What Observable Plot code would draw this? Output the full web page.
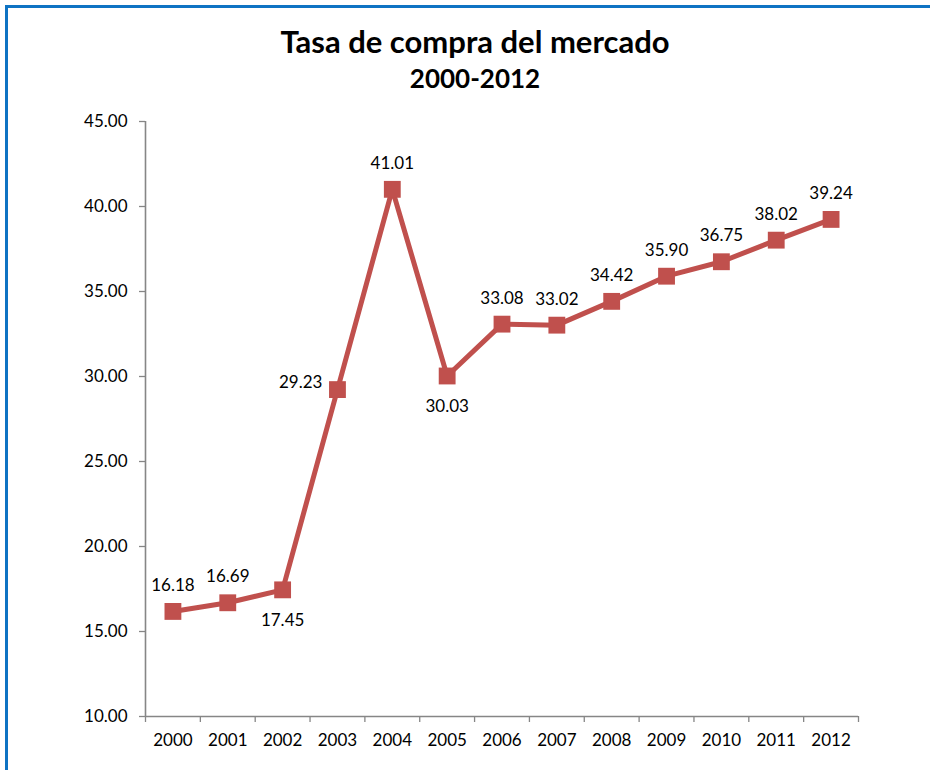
<!DOCTYPE html>
<html>
<head>
<meta charset="utf-8">
<script src="https://cdn.jsdelivr.net/npm/d3@7"></script>
<script src="https://cdn.jsdelivr.net/npm/@observablehq/plot@0.6"></script>
<style>
  html, body { margin: 0; padding: 0; background: #fff; }
  #wrap { position: relative; width: 930px; height: 770px; overflow: hidden; font-family: Lato, "Open Sans", sans-serif; }
  #frame { position: absolute; left: 5px; top: 5px; width: 1000px; height: 1000px; border-left: 3px solid #0F73C3; border-top: 3px solid #0F73C3; box-sizing: border-box; }
  .title { position: absolute; left: 0; width: 950px; text-align: center; font-weight: bold; color: #000; white-space: nowrap; }
  #t1 { top: 22px; font-size: 31px; line-height: 38px; }
  #t2 { top: 62px; font-size: 26px; line-height: 32px; }
  #chart { position: absolute; left: 0; top: 0; }
</style>
</head>
<body>
<div id="wrap">
  <div id="chart"></div>
  <div id="frame"></div>
  <div class="title" id="t1">Tasa de compra del mercado</div>
  <div class="title" id="t2">2000-2012</div>
</div>
<script>
// Data
const years = [2000, 2001, 2002, 2003, 2004, 2005, 2006, 2007, 2008, 2009, 2010, 2011, 2012];
const rates = [16.18, 16.69, 17.45, 29.23, 41.01, 30.03, 33.08, 33.02, 34.42, 35.90, 36.75, 38.02, 39.24];
const yTicks = [10, 15, 20, 25, 30, 35, 40, 45];
// label placement (style)
const labelPlacement = ["top","top","bottom","left","top","bottom","top","top","top","top","top","top","top"];

const data = years.map((y, i) => ({year: y, value: rates[i], pos: labelPlacement[i]}));
const boundaries = [...years.map(y => y - 0.5), years[years.length - 1] + 0.5];

const red = "#C0504D";
const gray = "#868686";

const plot = Plot.plot({
  width: 930,
  height: 770,
  marginLeft: 145,
  marginRight: 72,
  marginTop: 121,
  marginBottom: 54,
  style: {background: "transparent", fontFamily: "Lato, 'Open Sans', sans-serif", fontSize: "17px", color: "#000"},
  x: {type: "linear", domain: [years[0] - 0.5, years[years.length - 1] + 0.5]},
  y: {domain: [yTicks[0], yTicks[yTicks.length - 1]]},
  marks: [
    Plot.axisY({ticks: yTicks, tickSize: 6, tickPadding: 12, tickFormat: d => d.toFixed(2), stroke: gray, strokeWidth: 1.3, fill: "#000", label: null}),
    Plot.axisX({ticks: years, tickSize: 0, tickPadding: 17, tickFormat: d => String(d), fill: "#000", label: null}),
    Plot.axisX({ticks: boundaries, tickSize: 6, tickFormat: () => "", stroke: gray, strokeWidth: 1.3, label: null}),
    Plot.ruleY([yTicks[0]], {stroke: gray, strokeWidth: 1.6}),
    Plot.ruleX([years[0] - 0.5], {stroke: gray, strokeWidth: 1.6}),
    Plot.line(data, {x: "year", y: "value", stroke: red, strokeWidth: 5}),
    Plot.dot(data, {x: "year", y: "value", symbol: "square", r: 9.5, fill: red, stroke: "none"}),
    Plot.text(data.filter(d => d.pos === "top"), {x: "year", y: "value", text: d => d.value.toFixed(2), dy: -26, fill: "#000"}),
    Plot.text(data.filter(d => d.pos === "bottom"), {x: "year", y: "value", text: d => d.value.toFixed(2), dy: 31, fill: "#000"}),
    Plot.text(data.filter(d => d.pos === "left"), {x: "year", y: "value", text: d => d.value.toFixed(2), dx: -15, dy: -7, textAnchor: "end", fill: "#000"})
  ]
});
document.getElementById("chart").appendChild(plot);
</script>
</body>
</html>
